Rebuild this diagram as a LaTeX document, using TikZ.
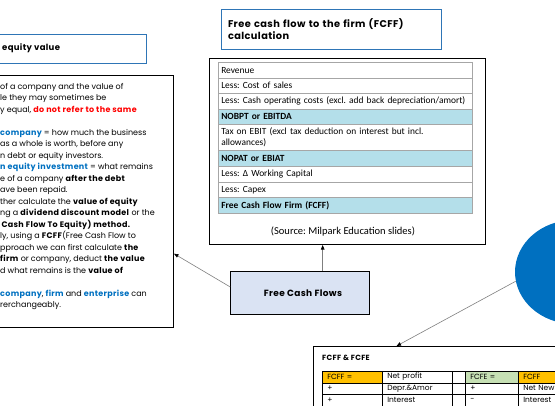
\documentclass[tikz,border=0pt]{standalone}
\usepackage{fontspec}
\setmainfont{Poppins}[BoldFeatures={LetterSpace=4}]
\newfontfamily\tablefont{Carlito}
\usetikzlibrary{arrows.meta,shapes.geometric}
\definecolor{TitleBlue}{HTML}{2E75B6}
\definecolor{BubbleBlue}{HTML}{0070C0}
\definecolor{KeyBlue}{HTML}{0070C0}
\definecolor{KeyRed}{HTML}{FF0000}
\definecolor{RowCyan}{HTML}{B4DFEA}
\definecolor{BoxLilac}{HTML}{DAE3F3}
\definecolor{CellOrange}{HTML}{FFC000}
\definecolor{CellGreen}{HTML}{C6E0B4}
\definecolor{LinkGray}{HTML}{7F7F7F}
\definecolor{RuleGray}{HTML}{A6A6A6}
\newcommand\keyb[1]{\textcolor{KeyBlue}{\bfseries #1}}
\newcommand\keyr[1]{\textcolor{KeyRed}{\bfseries #1}}
\frenchspacing
\begin{document}
\begin{tikzpicture}[x=1pt,y=-1pt,
  plainbox/.style={draw=black,line width=1pt,anchor=north west,inner sep=0},
  titlebox/.style={draw=TitleBlue,line width=1pt},
  link/.style={draw=LinkGray,line width=0.6pt,-{Triangle[length=4.5pt,width=3.5pt,color=black]}},
  body/.style={anchor=base west,inner sep=0,font=\fontsize{8}{11.5}\selectfont},
  rowcell/.style={draw=RuleGray,line width=0.5pt,anchor=north west,inner xsep=3pt,inner ysep=1pt,text width=248pt,align=left,font=\tablefont\fontsize{9.4}{11.5}\selectfont},
  cell/.style={draw=black,line width=0.5pt,anchor=north west,minimum height=11.5,inner xsep=5pt,inner ysep=0pt,align=left,font=\fontsize{7.5}{9}\selectfont}]
  \useasboundingbox (0,0) rectangle (555,405);
  % equity value summary (cut off at the left)
  \node[titlebox,anchor=north west,minimum width=186,minimum height=29,inner sep=0] (eqtitle) at (-40,34) {};
  \node[anchor=base west,inner sep=0,font=\bfseries\fontsize{8.5}{10}\selectfont] (eqtext) at (2,50) {equity value};
  \node[plainbox,minimum width=213,minimum height=252] (summary) at (-40,75) {};
  \foreach \i/\txt in {1/{of a company and the value of},2/{le they may sometimes be},
    3/{y equal, \keyr{do not refer to the same}},5/{\keyb{company} = how much the business},
    6/{as a whole is worth, before any},7/{n debt or equity investors.},
    8/{\keyb{n equity investment} = what remains},9/{e of a company \textbf{after the debt}},
    10/{ave been repaid.},11/{ther calculate the \textbf{value of equity}},
    12/{ng a \textbf{dividend discount model} or the},13/{\textbf{\,Cash Flow To Equity) method.}},
    14/{ly, using a \textbf{FCFF}(Free Cash Flow to},15/{pproach we can first calculate \textbf{the}},
    16/{\textbf{firm} or company, deduct \textbf{the value}},17/{d what remains is the \textbf{value of}},
    19/{\keyb{company}, \keyb{firm} and \keyb{enterprise} can},20/{rerchangeably.}}
    \node[body] (line\i) at (0,{77.5+11.5*\i}) {\txt};
  % FCFF calculation
  \node[titlebox,minimum height=40,text width=206pt,inner xsep=7pt,align=left,font=\bfseries\fontsize{9.8}{12.5}\selectfont] (calctitle) at (331,29) {Free cash flow to the firm (FCFF)\\calculation};
  \node[plainbox,minimum width=276,minimum height=186] (srcbox) at (209,58) {};
  \foreach \nm/\ytop/\hgt/\clr/\txt in {rev/62/16/white/{Revenue},cos/78/15/white/{Less: Cost of sales},
    opc/93/16/white/{Less: Cash operating costs (excl. add back depreciation/amort)},
    ebitda/109/15/RowCyan/{\bfseries NOBPT or EBITDA},
    tax/124/26/white/{Tax on EBIT (excl tax deduction on interest but incl.\\allowances)},
    ebiat/150/16/RowCyan/{\bfseries NOPAT or EBIAT},wcap/166/16/white/{Less: Δ Working Capital},
    capex/182/15/white/{Less: Capex},fcff/197/16/RowCyan/{\bfseries Free Cash Flow Firm (FCFF)}}
    \node[rowcell,fill=\clr,minimum height=\hgt] (\nm) at (218,\ytop) {\txt};
  \node[inner sep=0,font=\tablefont\fontsize{10.5}{12}\selectfont] (src) at (343,232) {(Source: Milpark Education slides)};
  \node[draw=black,line width=0.8pt,fill=BoxLilac,minimum width=139,minimum height=43,font=\bfseries\fontsize{9}{10}\selectfont] (fcf) at (300,293) {\hspace*{6pt}Free Cash Flows};
  % FCFF & FCFE (cut off at the right)
  \node[ellipse,fill=BubbleBlue,minimum width=118,minimum height=104,inner sep=0] (bubble) at (574,272) {};
  \node[plainbox,minimum width=307,minimum height=94] (combox) at (313,346) {};
  \node[anchor=base west,inner sep=0,font=\bfseries\fontsize{7.5}{9}\selectfont] (comtitle) at (322,360) {FCFF \& FCFE};
  \foreach \nm/\cx/\cy/\w/\clr/\txt in {c11/322/371/60/CellOrange/{FCFF =},c12/382/371/70/white/{Net profit},
    c13/452/371/13/white/{},c14/465/371/53/CellGreen/{FCFE =},c15/518/371/90/CellOrange/{FCFF},
    c21/322/382.5/60/white/{+},c22/382/382.5/70/white/{Depr.\&Amor},c23/452/382.5/13/white/{},
    c24/465/382.5/53/white/{+},c25/518/382.5/90/white/{Net New Borrowing},
    c31/322/394/60/white/{+},c32/382/394/70/white/{Interest},c33/452/394/13/white/{},
    c34/465/394/53/white/{-},c35/518/394/90/white/{Interest}}{
    \pgfmathsetmacro\tw{\w-10}
    \node[cell,fill=\clr,text width=\tw pt] (\nm) at (\cx,\cy) {\txt};}
  % connectors
  \draw[link] (fcf.175) -- (summary.-26);
  \draw[link] (fcf.44) -- (fcf.44 |- srcbox.south);
  \draw[link] (bubble.189) -- (combox.146);
\end{tikzpicture}
\end{document}
